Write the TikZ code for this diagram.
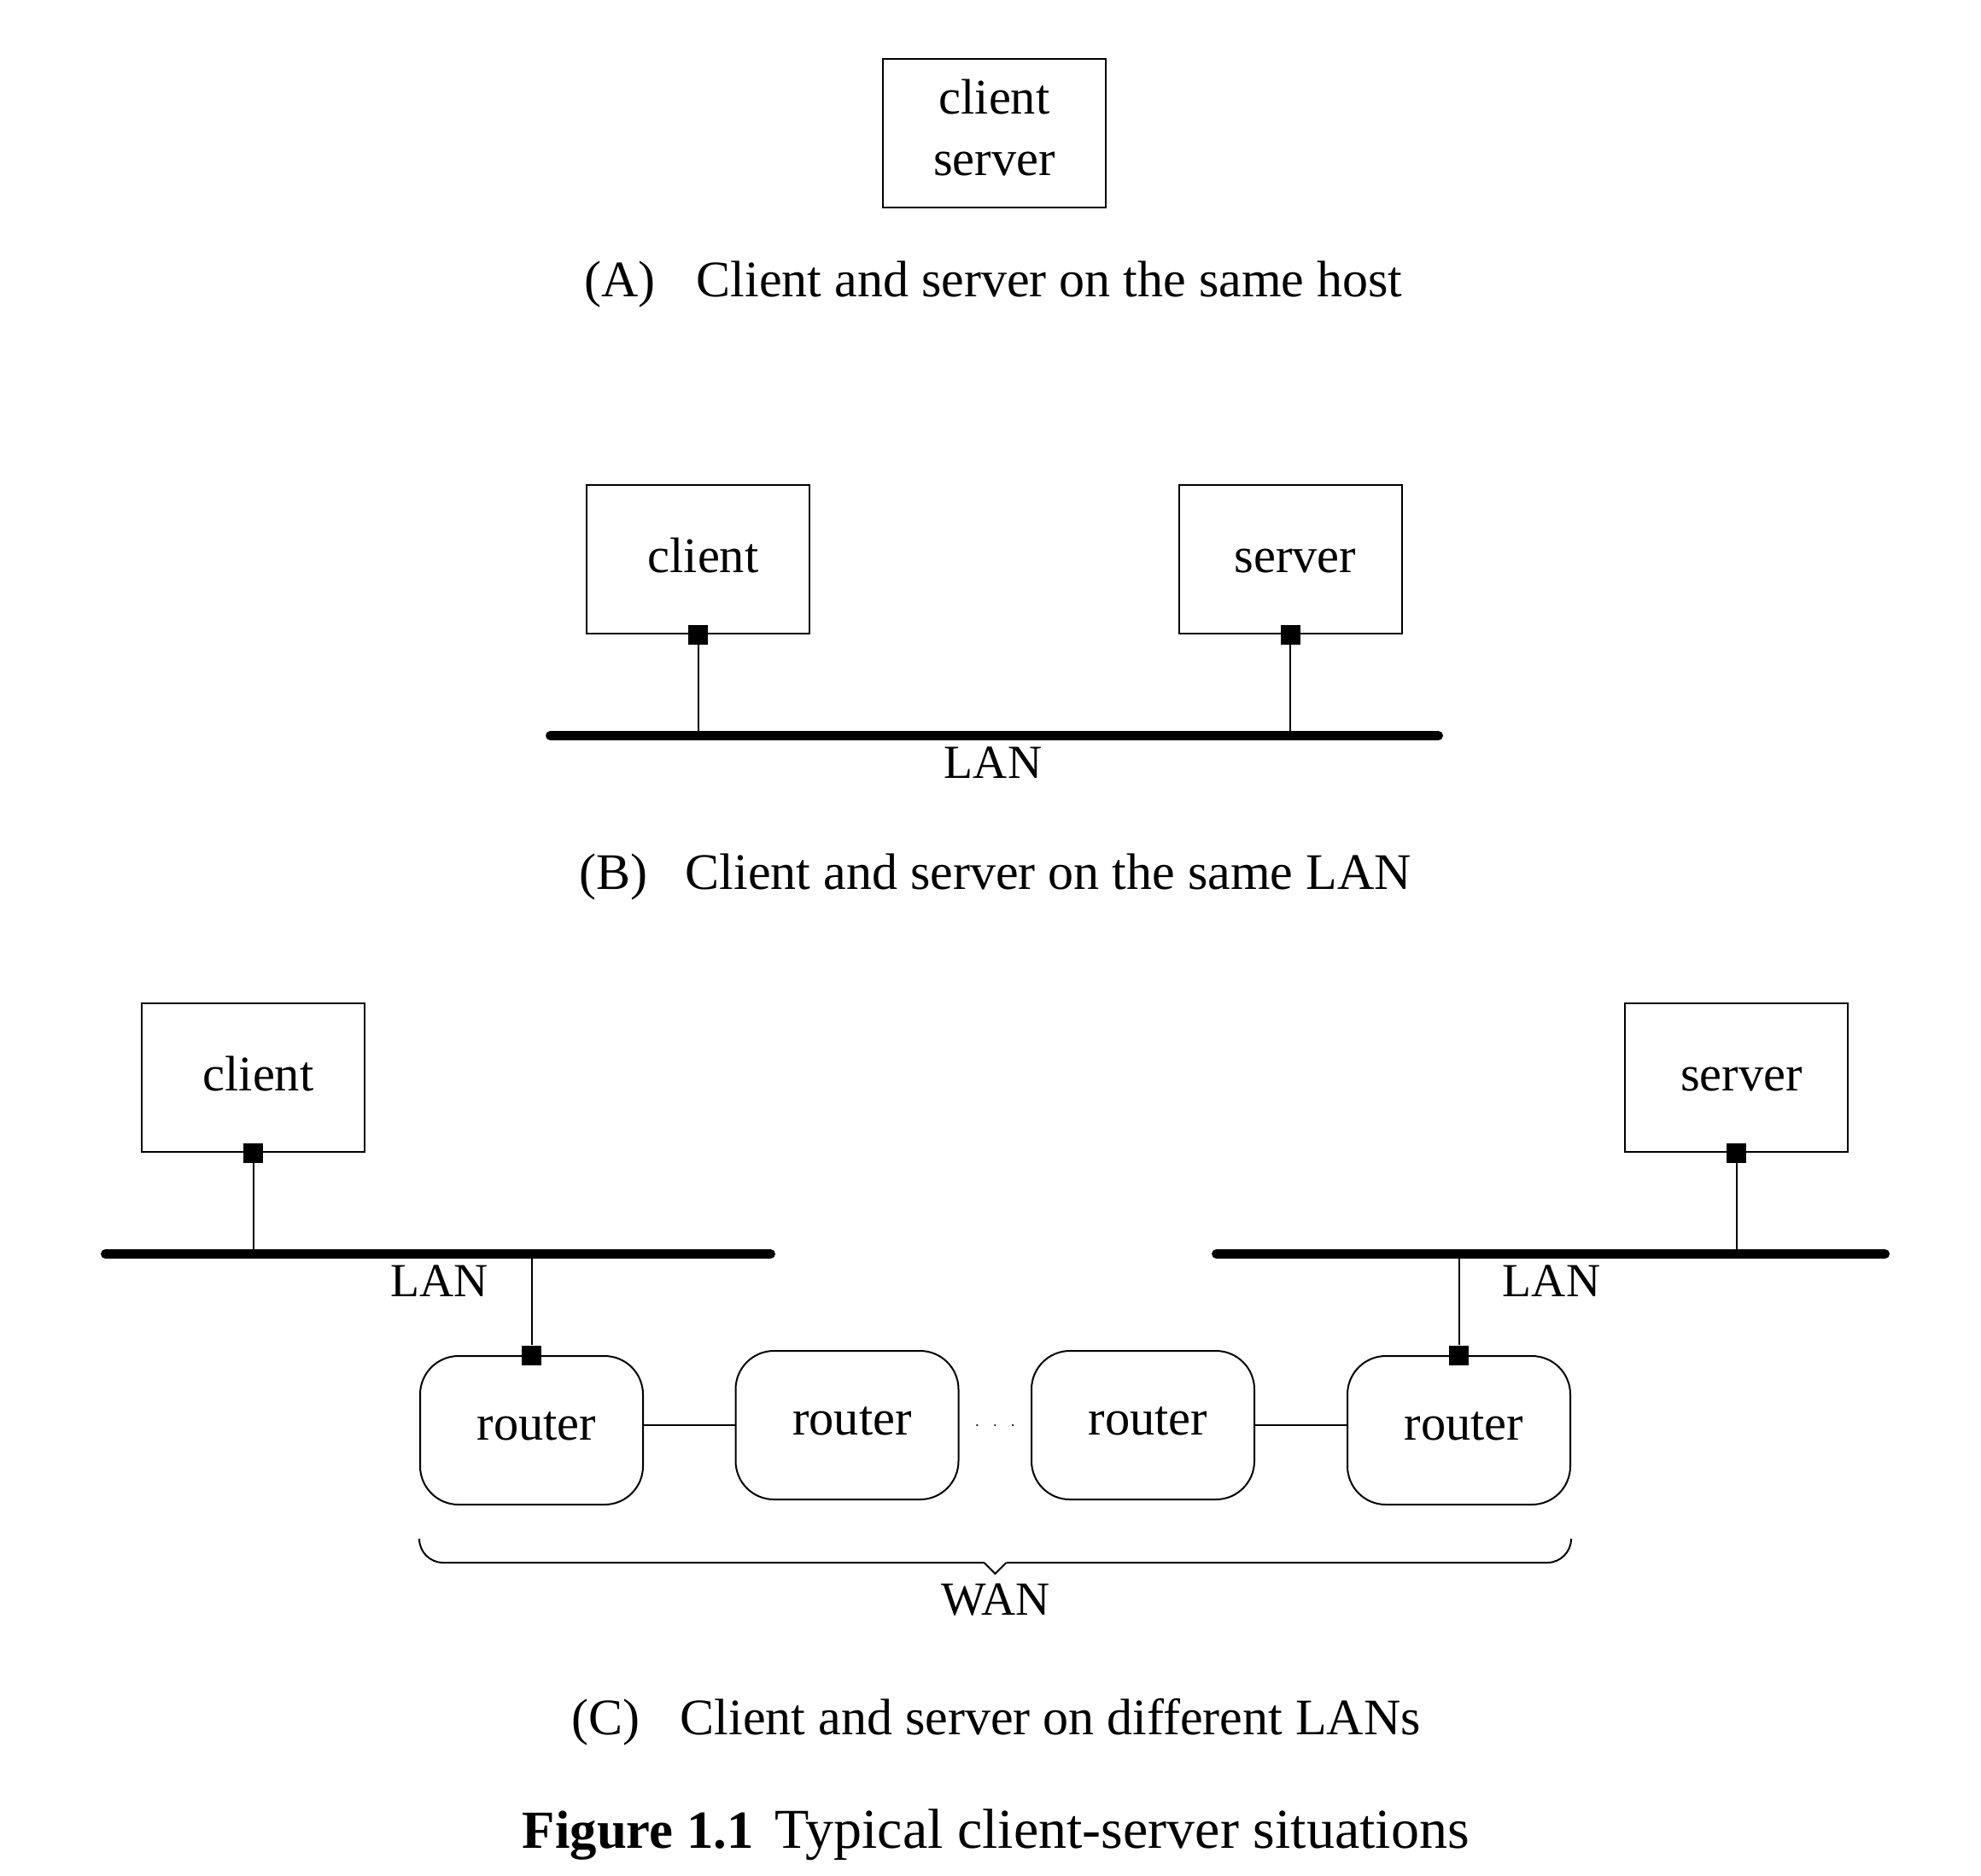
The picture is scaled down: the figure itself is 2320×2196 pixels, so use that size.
\documentclass[tikz,border=0pt]{standalone}
\usepackage{fontspec}
\setmainfont{Liberation Serif}
\usetikzlibrary{calc}
\newcommand\hostfont{\fontsize{14.6pt}{18pt}\selectfont}
\newcommand\lanfont{\fontsize{13.9pt}{17pt}\selectfont}
\newcommand\captfont{\fontsize{15pt}{18pt}\selectfont}
\newcommand\figfont{\fontsize{16.5pt}{19pt}\selectfont}
\newcommand\figboldfont{\fontsize{15.7pt}{19pt}\selectfont\bfseries}
\begin{document}
\begin{tikzpicture}[x=0.25pt,y=-0.25pt,
  boxbase/.style={draw,line width=0.5pt,minimum width=65.25pt,minimum height=43.5pt,inner sep=0pt,font=\hostfont},
  shifted/.style={text depth=2.4pt,execute at begin node={\hspace*{3pt}}},
  host/.style={boxbase,shifted,text height=10pt},
  router/.style={boxbase,shifted,rounded corners=11.25pt},
  port/.style={fill=black,draw=none,minimum size=5.75pt,inner sep=0pt},
  lan/.style={line width=2.75pt,line cap=round},
  wire/.style={line width=0.5pt},
  lbl/.style={anchor=base,font=\lanfont,inner sep=0pt},
  captext/.style={anchor=base west,font=\captfont,inner sep=0pt},
  figtext/.style={anchor=base west,font=\figfont,inner sep=0pt}]
\useasboundingbox (0,0) rectangle (2320,2196);

% ---------- (A)
\node[boxbase,align=center,text depth=3.6pt] (hA) at (1164.5,156) {client\\server};
\node[captext] (capAl) at (683.6,347) {(A)};
\node[captext] (capAt) at (815,347) {Client and server on the same host};

% ---------- (B)
\node[host] (cB) at (817.5,655) {client};
\node[host] (sB) at (1511,655) {server};
\coordinate (lanBl) at (644.5,861.5);
\coordinate (lanBr) at (1684.5,861.5);
\draw[lan] (lanBl) -- (lanBr);
\node[port] (pcB) at (cB.south) {};
\node[port] (psB) at (sB.south) {};
\draw[wire] (pcB.south) -- (pcB.south |- lanBl);
\draw[wire] (psB.south) -- (psB.south |- lanBl);
\node[lbl] (lanBt) at (1163,911) {LAN};
\node[captext] (capBl) at (677.6,1041) {(B)};
\node[captext] (capBt) at (802,1041) {Client and server on the same LAN};

% ---------- (C)
\node[host] (cC) at (296.5,1262) {client};
\node[host] (sC) at (2033.5,1262) {server};
\coordinate (lanC1l) at (123.5,1468.5);
\coordinate (lanC1r) at (902.5,1468.5);
\coordinate (lanC2l) at (1424.5,1468.5);
\coordinate (lanC2r) at (2207.5,1468.5);
\draw[lan] (lanC1l) -- (lanC1r);
\draw[lan] (lanC2l) -- (lanC2r);
\node[lbl] (lanC1t) at (514.5,1518) {LAN};
\node[lbl] (lanC2t) at (1817,1518) {LAN};

\node[router] (R1) at (622.5,1675) {router};
\node[router] (R2) at (992,1669) {router};
\node[router] (R3) at (1338.5,1669) {router};
\node[router] (R4) at (1708.5,1675) {router};

\node[port] (pcC) at (cC.south) {};
\node[port] (psC) at (sC.south) {};
\node[port] (pR1) at (R1.north) {};
\node[port] (pR4) at (R4.north) {};
\draw[wire] (pcC.south) -- (pcC.south |- lanC1l);
\draw[wire] (psC.south) -- (psC.south |- lanC2l);
\draw[wire] (pR1.north |- lanC1l) -- (pR1.north);
\draw[wire] (pR4.north |- lanC2l) -- (pR4.north);

\draw[wire] (R2.west -| R1.east) -- (R2.west);
\draw[wire] (R3.east) -- (R3.east -| R4.west);
\foreach \t in {0.25,0.5,0.75}
  \fill ($(R2.east)!\t!(R3.west)$) circle[radius=0.3pt];

% WAN brace
\coordinate (bl) at ($(R1.south west)+(0,40)$);
\coordinate (br) at ($(R4.south east)+(0,40)$);
\coordinate (tip) at ($(bl)!0.5!(br)+(0,40)$);
\draw[wire,rounded corners=7pt] (bl) |- ($(tip)+(-13,-13)$);
\draw[wire] ($(tip)+(-13,-13)$) -- (tip) -- ($(tip)+(13,-13)$);
\draw[wire,rounded corners=7pt] ($(tip)+(13,-13)$) -| (br);
\node[lbl] (wan) at (1166,1891) {WAN};

\node[captext] (capCl) at (668.8,2031) {(C)};
\node[captext] (capCt) at (796,2031) {Client and server on different LANs};

% ---------- figure caption
\node[figtext,font=\figboldfont] (figl) at (611,2164) {Figure 1.1};
\node[figtext] (figt) at (907,2164) {Typical client-server situations};
\end{tikzpicture}
\end{document}
